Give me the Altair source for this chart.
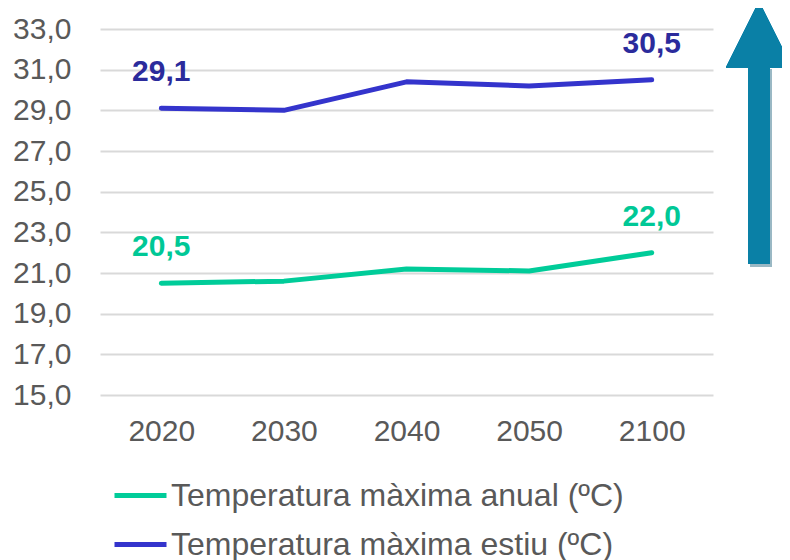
import altair as alt
import pandas as pd

years = ["2020", "2030", "2040", "2050", "2100"]
anual = [20.5, 20.6, 21.2, 21.1, 22.0]
estiu = [29.1, 29.0, 30.4, 30.2, 30.5]
series_names = ["Temperatura màxima anual (ºC)", "Temperatura màxima estiu (ºC)"]
line_colors = ["#00cc99", "#3434cc"]
label_colors = ["#00c896", "#2b2b9c"]
y_ticks = [15, 17, 19, 21, 23, 25, 27, 29, 31, 33]

rows = []
for name, vals in zip(series_names, [anual, estiu]):
    for i, (yr, v) in enumerate(zip(years, vals)):
        rows.append({"year": yr, "value": v, "serie": name,
                     "label": f"{v:.1f}".replace(".", ","),
                     "show": i == 0 or i == len(years) - 1})
df = pd.DataFrame(rows)

FONT = "Liberation Sans"

x_enc = alt.X("year:N", sort=years, title=None,
              axis=alt.Axis(labelFontSize=30, labelColor="#595959", labelFont=FONT,
                            labelPadding=21, ticks=False, domain=False, labelAngle=0,
                            grid=False))
y_enc = alt.Y("value:Q", title=None,
              scale=alt.Scale(domain=[15, 33], nice=False, zero=False),
              axis=alt.Axis(values=y_ticks, labelFontSize=30, labelColor="#595959",
                            labelFont=FONT, labelPadding=29, ticks=False, tickSize=0,
                            domain=False, grid=True, gridColor="#d9d9d9", gridWidth=2,
                            labelExpr="replace(format(datum.value, '.1f'), '.', ',')"))

base = alt.Chart(df)

lines = base.mark_line(strokeWidth=5, strokeCap="round", strokeJoin="round").encode(
    x=x_enc, y=y_enc,
    color=alt.Color("serie:N", sort=series_names,
                    scale=alt.Scale(domain=series_names, range=line_colors),
                    legend=alt.Legend(title=None, orient="none", legendX=12, legendY=438,
                                      direction="vertical", symbolType="stroke",
                                      symbolSize=2704, symbolStrokeWidth=5,
                                      labelFontSize=32, labelFont=FONT,
                                      labelColor="#595959", labelOffset=2,
                                      rowPadding=4, padding=0, labelLimit=700)),
)

labels = base.transform_filter("datum.show").mark_text(
    fontSize=30, fontWeight="bold", font=FONT, dy=-36).encode(
    x=alt.X("year:N", sort=years), y="value:Q", text="label:N",
    color=alt.Color("serie:N", scale=alt.Scale(domain=series_names, range=label_colors),
                    legend=None),
)

arrow_color = "#0a80a6"
shaft_shadow = alt.Chart(df).mark_rule(strokeWidth=22, color="#9ab8c4", opacity=0.5).encode(
    x=alt.value(661), y=alt.value(40), y2=alt.value(238))
shaft = alt.Chart(df).mark_rule(strokeWidth=22, color=arrow_color).encode(
    x=alt.value(659), y=alt.value(36), y2=alt.value(235))
head = alt.Chart(df).mark_point(shape="M-1,1L0,-1L1,1Z", filled=True, opacity=1,
                                 size=4356, color=arrow_color, strokeWidth=0).encode(
    x=alt.value(659), y=alt.value(5.5))

chart = alt.layer(lines, labels, shaft_shadow, shaft, head).resolve_scale(
    color="independent").properties(
    width=613, height=366,
    autosize=alt.AutoSizeParams(type="none"),
    padding={"left": 92, "top": 21, "right": 69, "bottom": 165},
    background="white",
).configure_view(stroke=None)

chart.save("out.html", embed_options={"renderer": "svg", "actions": False})
